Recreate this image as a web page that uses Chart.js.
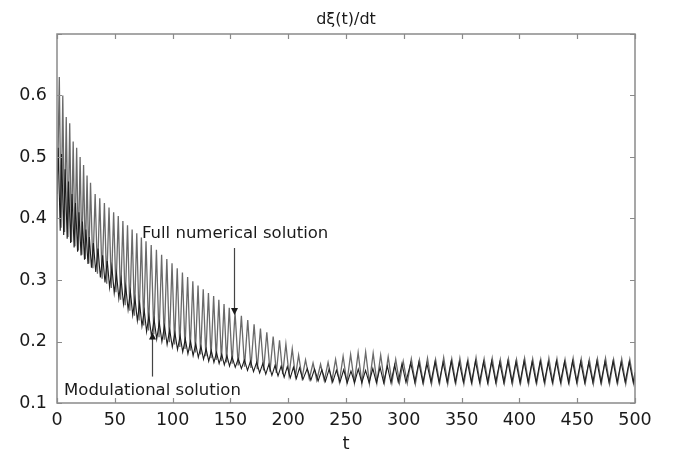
<!DOCTYPE html>
<html>
<head>
<meta charset="utf-8">
<script src="https://cdn.jsdelivr.net/npm/chart.js@4.4.0/dist/chart.umd.min.js"></script>
<style>
  html, body { margin: 0; padding: 0; background: #fff; }
  canvas { display: block; }
</style>
</head>
<body>
<canvas id="xiChart" width="676" height="454"></canvas>
<script>
// Turning points (peaks / troughs) of the full numerical solution
const fullT = [
  0, 2, 3.5, 5, 6.5, 8, 9.5, 11, 12.5, 14,
  15.5, 17, 18.5, 20, 21.5, 23, 24.5, 26, 27.5, 29,
  31, 33, 35, 37, 39, 41, 43, 45, 47, 49,
  51, 53, 55, 57, 59, 61, 63, 65, 67, 69,
  71, 73, 75, 77, 79.25, 81.5, 83.75, 86, 88.25, 90.5,
  92.75, 95, 97.25, 99.5, 101.75, 104, 106.25, 108.5, 110.75, 113,
  115.25, 117.5, 119.75, 122, 124.25, 126.5, 128.75, 131, 133.25, 135.5,
  137.75, 140, 142.25, 144.5, 146.75, 149, 151.5, 154, 156.75, 159.5,
  162.25, 165, 167.75, 170.5, 173.25, 176, 178.75, 181.5, 184.25, 187,
  189.75, 192.5, 195.25, 198, 200.75, 203.5, 206.25, 209, 212, 215,
  218.25, 221.5, 224.75, 228, 231.25, 234.5, 237.75, 241, 244.25, 247.5,
  250.75, 254, 257.25, 260.5, 263.75, 267, 270.25, 273.5, 276.75, 280,
  283.25, 286.5, 289.75, 293, 296.25, 299.5, 303, 306.5, 310, 313.5,
  317, 320.5, 324, 327.5, 331, 334.5, 338, 341.5, 345, 348.5,
  352, 355.5, 359, 362.5, 366, 369.5, 373, 376.5, 380, 383.5,
  387, 390.5, 394, 397.5, 401, 404.5, 408, 411.5, 415, 418.5,
  422, 425.5, 429, 432.5, 436, 439.5, 443, 446.5, 450, 453.5,
  457, 460.5, 464, 467.5, 471, 474.5, 478, 481.5, 485, 488.5,
  492, 495.5, 499, 500
];
const fullV = [
  0.40, 0.63, 0.385, 0.60, 0.378, 0.565, 0.37, 0.555, 0.362, 0.525,
  0.355, 0.515, 0.348, 0.50, 0.341, 0.487, 0.334, 0.47, 0.327, 0.458,
  0.319, 0.44, 0.31, 0.433, 0.302, 0.425, 0.294, 0.418, 0.287, 0.41,
  0.28, 0.404, 0.268, 0.396, 0.259, 0.389, 0.25, 0.382, 0.242, 0.376,
  0.234, 0.369, 0.226, 0.363, 0.218, 0.357, 0.212, 0.349, 0.207, 0.341,
  0.203, 0.334, 0.199, 0.327, 0.195, 0.319, 0.191, 0.312, 0.188, 0.305,
  0.185, 0.298, 0.182, 0.291, 0.179, 0.285, 0.176, 0.279, 0.173, 0.274,
  0.17, 0.268, 0.168, 0.261, 0.166, 0.255, 0.164, 0.248, 0.161, 0.242,
  0.159, 0.235, 0.157, 0.228, 0.155, 0.221, 0.153, 0.215, 0.151, 0.208,
  0.149, 0.202, 0.147, 0.196, 0.145, 0.188, 0.143, 0.178, 0.141, 0.17,
  0.139, 0.165, 0.137, 0.163, 0.136, 0.166, 0.135, 0.171, 0.134, 0.176,
  0.133, 0.179, 0.133, 0.182, 0.132, 0.183, 0.132, 0.181, 0.133, 0.178,
  0.133, 0.175, 0.133, 0.171, 0.133, 0.168, 0.132, 0.172, 0.131, 0.17,
  0.132, 0.173, 0.131, 0.171, 0.132, 0.174, 0.131, 0.172, 0.132, 0.173,
  0.131, 0.171, 0.132, 0.174, 0.131, 0.172, 0.132, 0.173, 0.131, 0.171,
  0.132, 0.172, 0.131, 0.171, 0.132, 0.173, 0.131, 0.172, 0.132, 0.171,
  0.131, 0.173, 0.132, 0.172, 0.131, 0.171, 0.132, 0.173, 0.131, 0.172,
  0.132, 0.171, 0.131, 0.172, 0.132, 0.173, 0.131, 0.171, 0.132, 0.172,
  0.131, 0.171, 0.132, 0.145
];

// Turning points of the modulational solution
const modT = [
  0, 1, 2.8, 4, 5.8, 7, 8.8, 10, 11.8, 13,
  14.8, 16, 17.8, 19, 20.8, 22, 23.8, 25, 26.8, 28,
  29.8, 31.5, 33.5, 35.5, 37.5, 39.5, 41.5, 43.5, 45.5, 47.5,
  49.5, 51.5, 53.5, 55.5, 57.5, 59.5, 61.5, 63.5, 65.5, 67.5,
  69.5, 71.5, 73.5, 75.5, 77.5, 79.5, 81.75, 84, 86.25, 88.5,
  90.75, 93, 95.25, 97.5, 99.75, 102, 104.25, 106.5, 108.75, 111,
  113.25, 115.5, 117.75, 120, 122.25, 124.5, 126.75, 129, 131.25, 133.5,
  135.75, 138, 140.25, 142.5, 144.75, 147, 149.25, 151.5, 154.2, 156.8,
  159.5, 162.1, 164.8, 167.4, 170, 172.7, 175.3, 178, 180.6, 183.3,
  185.9, 188.6, 191.2, 193.9, 196.5, 199.2, 201.8, 204.5, 207.1, 209.8,
  212.7, 216.5, 219.6, 222.8, 225.9, 229.1, 232.2, 235.4, 238.5, 241.7,
  244.8, 248, 251.1, 254.3, 257.4, 260.6, 263.7, 266.9, 270, 273.2,
  276.3, 279.5, 282.6, 285.8, 288.9, 292.1, 295.2, 298.4, 301.8, 306,
  309.5, 313, 316.5, 320, 323.5, 327, 330.5, 334, 337.5, 341,
  344.5, 348, 351.5, 355, 358.5, 362, 365.5, 369, 372.5, 376,
  379.5, 383, 386.5, 390, 393.5, 397, 400.5, 404, 407.5, 411,
  414.5, 418, 421.5, 425, 428.5, 432, 435.5, 439, 442.5, 446,
  449.5, 453, 456.5, 460, 463.5, 467, 470.5, 474, 477.5, 481,
  484.5, 488, 491.5, 495, 498.5, 500
];
const modV = [
  0.44, 0.515, 0.38, 0.505, 0.373, 0.48, 0.367, 0.46, 0.36, 0.44,
  0.353, 0.425, 0.346, 0.41, 0.34, 0.395, 0.333, 0.382, 0.326, 0.37,
  0.32, 0.36, 0.313, 0.351, 0.304, 0.34, 0.296, 0.331, 0.288, 0.321,
  0.279, 0.31, 0.27, 0.301, 0.261, 0.289, 0.252, 0.281, 0.243, 0.27,
  0.234, 0.262, 0.225, 0.25, 0.216, 0.242, 0.208, 0.236, 0.204, 0.231,
  0.2, 0.225, 0.195, 0.219, 0.191, 0.214, 0.187, 0.209, 0.183, 0.204,
  0.18, 0.2, 0.177, 0.196, 0.174, 0.192, 0.171, 0.188, 0.168, 0.185,
  0.166, 0.182, 0.164, 0.179, 0.162, 0.177, 0.16, 0.175, 0.158, 0.172,
  0.156, 0.17, 0.153, 0.168, 0.151, 0.166, 0.149, 0.164, 0.147, 0.163,
  0.145, 0.161, 0.144, 0.16, 0.142, 0.159, 0.141, 0.158, 0.14, 0.157,
  0.138, 0.156, 0.137, 0.155, 0.136, 0.154, 0.135, 0.155, 0.134, 0.153,
  0.134, 0.154, 0.133, 0.152, 0.133, 0.155, 0.133, 0.153, 0.133, 0.156,
  0.133, 0.158, 0.133, 0.16, 0.133, 0.162, 0.134, 0.164, 0.134, 0.165,
  0.134, 0.166, 0.133, 0.164, 0.134, 0.167, 0.133, 0.166, 0.134, 0.168,
  0.133, 0.166, 0.134, 0.167, 0.133, 0.168, 0.134, 0.167, 0.133, 0.168,
  0.134, 0.166, 0.133, 0.168, 0.134, 0.167, 0.133, 0.168, 0.134, 0.167,
  0.133, 0.168, 0.134, 0.166, 0.133, 0.168, 0.134, 0.167, 0.133, 0.168,
  0.134, 0.167, 0.133, 0.166, 0.134, 0.168, 0.133, 0.167, 0.134, 0.168,
  0.133, 0.166, 0.134, 0.167, 0.133, 0.15
];

const xMin = 0, xMax = 500, xStep = 50;
const yMin = 0.1, yMax = 0.7, yStep = 0.1;
const yLabelTop = 0.6; // no label printed at the top edge
const chartTitle = 'dξ(t)/dt';

// text labels with their arrows, in data units
const notes = [
  { text: 'Full numerical solution', t: 73.5, v: 0.368, arrowT: 153, fromV: 0.352, toV: 0.243 },
  { text: 'Modulational solution', t: 6.1, v: 0.113, arrowT: 82, fromV: 0.143, toV: 0.2146 }
];

function toPoints(ts, vs) {
  const n = Math.min(ts.length, vs.length);
  const pts = [];
  for (let i = 0; i < n; i++) pts.push({ x: ts[i], y: vs[i] });
  return pts;
}

const FONT = '"DejaVu Sans", sans-serif';

// box around the plot, inward tick marks on all four sides, title, labels + arrows
const framePlugin = {
  id: 'frame',
  afterDatasetsDraw(chart) {
    const { ctx, chartArea: a } = chart;
    const sx = chart.scales.x, sy = chart.scales.y;
    ctx.save();
    ctx.strokeStyle = '#8a8a8a';
    ctx.lineWidth = 1.5;
    ctx.strokeRect(a.left, a.top, a.right - a.left, a.bottom - a.top);

    ctx.lineWidth = 1.2;
    ctx.beginPath();
    sx.ticks.forEach(tk => {
      const px = Math.round(sx.getPixelForValue(tk.value)) + 0.5;
      ctx.moveTo(px, a.bottom); ctx.lineTo(px, a.bottom - 5);
      ctx.moveTo(px, a.top); ctx.lineTo(px, a.top + 5);
    });
    sy.ticks.forEach(tk => {
      const py = Math.round(sy.getPixelForValue(tk.value)) + 0.5;
      ctx.moveTo(a.left, py); ctx.lineTo(a.left + 5, py);
      ctx.moveTo(a.right, py); ctx.lineTo(a.right - 5, py);
    });
    ctx.stroke();

    // title centred over the plot box
    ctx.fillStyle = '#1a1a1a';
    ctx.font = '16px ' + FONT;
    ctx.textAlign = 'center';
    ctx.textBaseline = 'middle';
    ctx.fillText(chartTitle, (a.left + a.right) / 2, a.top - 14);

    ctx.strokeStyle = '#444';
    ctx.font = '16.5px ' + FONT;
    ctx.textAlign = 'left';
    ctx.textBaseline = 'alphabetic';
    notes.forEach(n => {
      ctx.fillText(n.text, sx.getPixelForValue(n.t), sy.getPixelForValue(n.v));
      const ax = Math.round(sx.getPixelForValue(n.arrowT)) + 0.5;
      const y0 = sy.getPixelForValue(n.fromV);
      const y1 = sy.getPixelForValue(n.toV);
      const dir = y1 > y0 ? 1 : -1;
      ctx.lineWidth = 1.2;
      ctx.beginPath();
      ctx.moveTo(ax, y0);
      ctx.lineTo(ax, y1 - dir * 6);
      ctx.stroke();
      ctx.beginPath();
      ctx.moveTo(ax, y1);
      ctx.lineTo(ax - 3.5, y1 - dir * 7);
      ctx.lineTo(ax + 3.5, y1 - dir * 7);
      ctx.closePath();
      ctx.fill();
    });
    ctx.restore();
  }
};

new Chart(document.getElementById('xiChart'), {
  type: 'scatter',
  data: {
    datasets: [
      {
        label: 'Modulational solution',
        data: toPoints(modT, modV),
        showLine: true,
        borderColor: '#1e1e1e',
        borderWidth: 1.1,
        pointRadius: 0,
        tension: 0,
        order: 0
      },
      {
        label: 'Full numerical solution',
        data: toPoints(fullT, fullV),
        showLine: true,
        borderColor: '#6a6a6a',
        borderWidth: 1.3,
        pointRadius: 0,
        tension: 0,
        order: 1
      }
    ]
  },
  options: {
    responsive: false,
    animation: false,
    devicePixelRatio: 1,
    layout: { padding: { left: 0, right: 41, top: 34, bottom: 0 } },
    plugins: {
      legend: { display: false },
      tooltip: { enabled: false },
      title: { display: false }
    },
    scales: {
      x: {
        type: 'linear',
        min: xMin,
        max: xMax,
        grid: { display: false, drawTicks: false },
        border: { display: false },
        ticks: {
          stepSize: xStep,
          padding: 7,
          color: '#1a1a1a',
          maxRotation: 0,
          font: { family: FONT, size: 17.5 }
        },
        title: {
          display: true,
          text: 't',
          color: '#1a1a1a',
          font: { family: FONT, size: 18 },
          padding: { top: 0, bottom: -1 }
        },
        afterFit(scale) { scale.height = 51; }
      },
      y: {
        type: 'linear',
        min: yMin,
        max: yMax,
        grid: { display: false, drawTicks: false },
        border: { display: false },
        ticks: {
          stepSize: yStep,
          padding: 10,
          color: '#1a1a1a',
          font: { family: FONT, size: 17.5 },
          callback: v => (v > yLabelTop + 1e-6 ? '' : v.toFixed(1))
        },
        afterFit(scale) { scale.width = 57; }
      }
    }
  },
  plugins: [framePlugin]
});
</script>
</body>
</html>
